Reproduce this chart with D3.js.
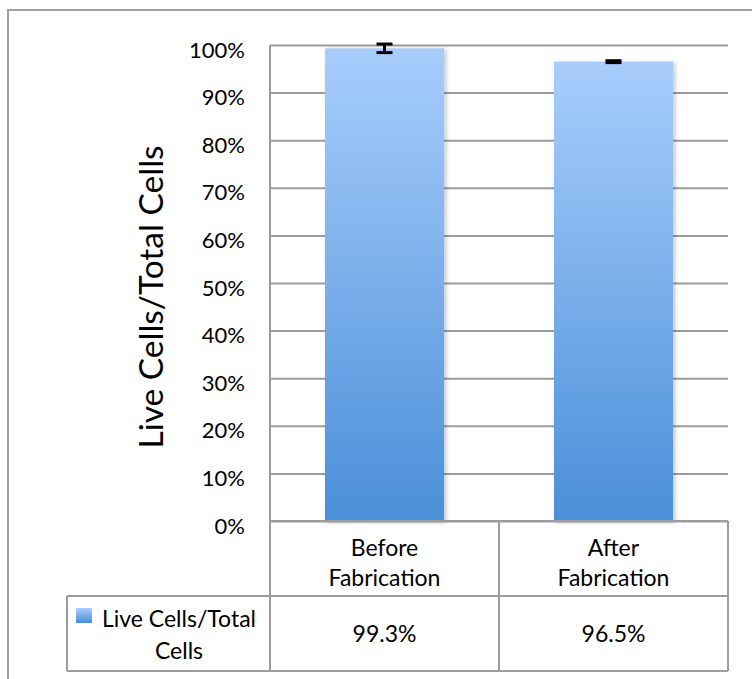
<!DOCTYPE html>
<html><head><meta charset="utf-8">
<script src="https://cdn.jsdelivr.net/npm/d3@7"></script>
<style>html,body{margin:0;padding:0;background:#fff;}svg{display:block;}</style>
</head><body>
<svg id="chart" width="752" height="679"></svg>
<script>
const categories = ["Before Fabrication", "After Fabrication"];
const values = [99.3, 96.5];
const errors = [0.9, 0.2];
const valueLabels = ["99.3%", "96.5%"];
const seriesName = "Live Cells/Total Cells";
const yTicks = [0, 10, 20, 30, 40, 50, 60, 70, 80, 90, 100];
const yTitle = "Live Cells/Total Cells";

(function () {
const FONT = "Lato, 'Open Sans', sans-serif";
const GRID = "#9c9c9c";
const svg = d3.select("#chart");

const pLeft = 270, pRight = 728, pTop = 45, pBottom = 521;
const row1 = 596, row2 = 671, legendLeft = 67;

const defs = svg.append("defs");
const grad = defs.append("linearGradient").attr("id", "barGrad")
  .attr("x1", 0).attr("y1", 0).attr("x2", 0).attr("y2", 1);
grad.append("stop").attr("offset", "0%").attr("stop-color", "#a8cdfc");
grad.append("stop").attr("offset", "100%").attr("stop-color", "#4a8fd8");
const f = defs.append("filter").attr("id", "shadow").attr("x", "-10%").attr("y", "-10%").attr("width", "130%").attr("height", "130%");
f.append("feDropShadow").attr("dx", 2).attr("dy", 1).attr("stdDeviation", 2).attr("flood-color", "#000").attr("flood-opacity", 0.25);

// outer frame
svg.append("rect").attr("x", 8).attr("y", 10).attr("width", 800).attr("height", 700)
  .attr("fill", "none").attr("stroke", "#a0a0a0").attr("stroke-width", 2);

const x = d3.scaleBand().domain(categories).range([pLeft, pRight]).padding(0);
const y = d3.scaleLinear().domain([0, 100]).range([pBottom, pTop]);

// gridlines + y labels
const yAxis = d3.axisLeft(y).tickValues(yTicks).tickSize(-(pRight - pLeft)).tickPadding(25)
  .tickFormat(d => d + "%");
const gy = svg.append("g").attr("transform", `translate(${pLeft},0)`).call(yAxis);
gy.select(".domain").remove();
gy.selectAll(".tick line").attr("stroke", GRID).attr("stroke-width", 2);
gy.selectAll(".tick text").attr("font-family", FONT).attr("font-size", 22).attr("fill", "#000")
  .attr("dy", "0.55em");

// axis line
svg.append("line").attr("x1", pLeft).attr("x2", pLeft).attr("y1", pTop).attr("y2", pBottom)
  .attr("stroke", GRID).attr("stroke-width", 2);

// bars
const bw = x.bandwidth() * 0.52;
svg.append("g").selectAll("rect").data(values).join("rect")
  .attr("x", (d, i) => x(categories[i]) + (x.bandwidth() - bw) / 2)
  .attr("y", d => y(d))
  .attr("width", bw)
  .attr("height", d => y(0) - y(d))
  .attr("fill", "url(#barGrad)")
  .attr("filter", "url(#shadow)");

// error bars
const eg = svg.append("g").attr("stroke", "#000").attr("stroke-width", 3);
values.forEach((v, i) => {
  const cx = x(categories[i]) + x.bandwidth() / 2;
  const y1 = y(v + errors[i]), y2 = y(v - errors[i]);
  eg.append("line").attr("x1", cx).attr("x2", cx).attr("y1", y1).attr("y2", y2);
  eg.append("line").attr("x1", cx - 8).attr("x2", cx + 8).attr("y1", y1).attr("y2", y1);
  eg.append("line").attr("x1", cx - 8).attr("x2", cx + 8).attr("y1", y2).attr("y2", y2);
});

// y title
svg.append("text").attr("transform", "translate(163,297) rotate(-90)")
  .attr("text-anchor", "middle").attr("font-family", FONT).attr("font-size", 33.5)
  .attr("fill", "#000").text(yTitle);

// data table
const tg = svg.append("g").attr("stroke", GRID).attr("stroke-width", 2).attr("fill", "none");
tg.append("line").attr("x1", pLeft).attr("x2", pRight).attr("y1", pBottom).attr("y2", pBottom);
tg.append("line").attr("x1", legendLeft).attr("x2", pRight).attr("y1", row1).attr("y2", row1);
tg.append("line").attr("x1", legendLeft).attr("x2", pRight).attr("y1", row2).attr("y2", row2);
tg.append("line").attr("x1", pLeft).attr("x2", pLeft).attr("y1", pBottom).attr("y2", row2);
tg.append("line").attr("x1", legendLeft).attr("x2", legendLeft).attr("y1", row1).attr("y2", row2);
categories.forEach(c => {
  tg.append("line").attr("x1", x(c) + x.bandwidth()).attr("x2", x(c) + x.bandwidth())
    .attr("y1", pBottom).attr("y2", row2);
});

const txt = svg.append("g").attr("font-family", FONT).attr("font-size", 23).attr("fill", "#000")
  .attr("text-anchor", "middle");
categories.forEach((c, i) => {
  const cx = x(c) + x.bandwidth() / 2;
  const parts = c.split(" ");
  txt.append("text").attr("x", cx).attr("y", 548).attr("dy", "0.35em").text(parts[0]);
  txt.append("text").attr("x", cx).attr("y", 578).attr("dy", "0.35em").text(parts[1]);
  txt.append("text").attr("x", cx).attr("y", 634).attr("dy", "0.35em").text(valueLabels[i]);
});
const nameParts = ["Live Cells/Total", "Cells"];
txt.append("text").attr("x", 179).attr("y", 619).attr("dy", "0.35em").text(nameParts[0]);
txt.append("text").attr("x", 179).attr("y", 651).attr("dy", "0.35em").text(nameParts[1]);
svg.append("rect").attr("x", 76).attr("y", 608).attr("width", 16).attr("height", 15)
  .attr("fill", "url(#barGrad)");
})();
</script>
</body></html>
